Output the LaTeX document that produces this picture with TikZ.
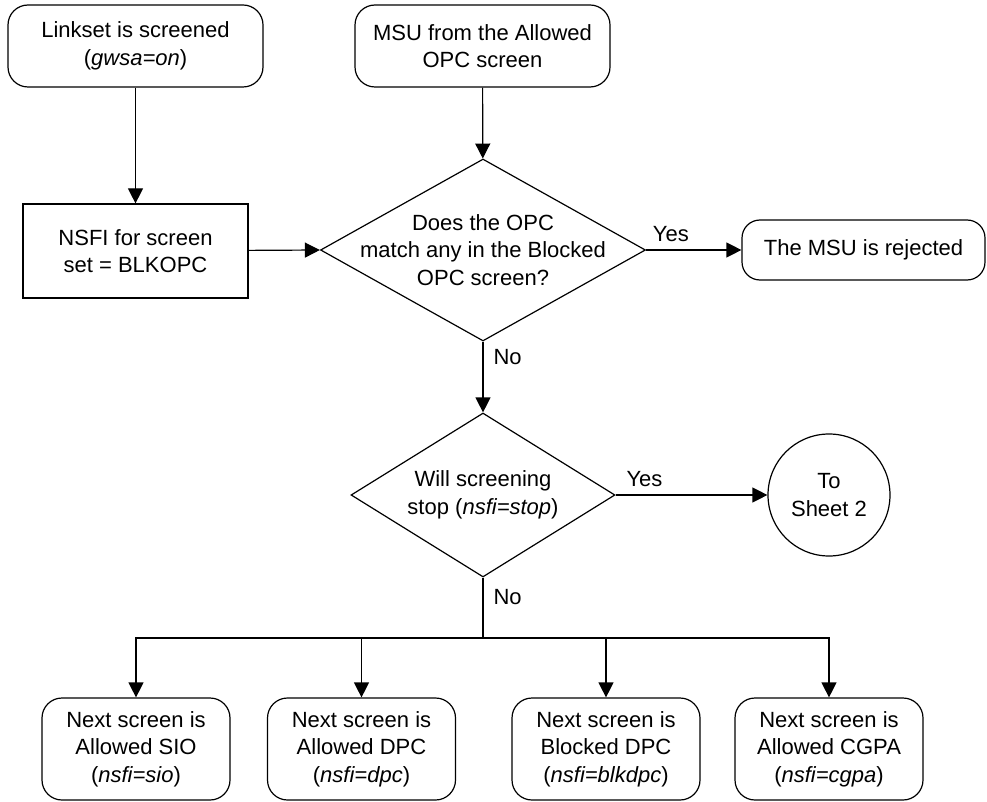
\documentclass[tikz,border=0pt]{standalone}
\usepackage{fontspec}
\setmainfont{Liberation Sans}
\usetikzlibrary{shapes.geometric,arrows.meta}
\begin{document}
\begin{tikzpicture}[x=1pt,y=-1pt,
  every node/.style={font=\fontsize{22}{27.5}\selectfont, align=center, inner sep=0pt},
  term/.style={draw, line width=1.2pt, rounded corners=20pt},
  proc/.style={draw, line width=1.2pt},
  dec/.style={draw, diamond, line width=1.2pt},
  conn/.style={draw, circle, line width=1.2pt, minimum size=122pt},
  arr/.style={line width=1.2pt, -{Triangle[length=15pt,width=15pt]}},
  ln/.style={line width=1.2pt}]
\useasboundingbox (0,0) rectangle (987,802);

\node[term, minimum width=255pt, minimum height=82pt] (s1) at (135.5,46) {Linkset is screened\\(\textit{gwsa=on})};
\node[term, minimum width=255pt, minimum height=82pt] (s2) at (482.5,46) {MSU from the Allowed\\OPC screen};
\node[proc, minimum width=225pt, minimum height=94pt] (nsfi) at (135.5,251) {NSFI for screen\\set = BLKOPC};
\node[dec, minimum width=325pt, minimum height=182pt,
  label={center:Does the OPC\\match any in the Blocked\\OPC screen?}] (d1) at (483,250) {};
\node[term, rounded corners=18pt, minimum width=243pt, minimum height=60pt] (rej) at (863.5,250) {The MSU is rejected};
\node[dec, minimum width=264pt, minimum height=164pt,
  label={center:Will screening\\stop (\textit{nsfi=stop})}] (d2) at (483,495) {};
\node[conn] (circ) at (829,495) {To\\Sheet 2};

\node[term, minimum width=188pt, minimum height=102pt] (b1) at (136,749) {Next screen is\\Allowed SIO\\(\textit{nsfi=sio})};
\node[term, minimum width=188pt, minimum height=102pt] (b2) at (361.5,749) {Next screen is\\Allowed DPC\\(\textit{nsfi=dpc})};
\node[term, minimum width=188pt, minimum height=102pt] (b3) at (606,749) {Next screen is\\Blocked DPC\\(\textit{nsfi=blkdpc})};
\node[term, minimum width=188pt, minimum height=102pt] (b4) at (829,749) {Next screen is\\Allowed CGPA\\(\textit{nsfi=cgpa})};

\coordinate (j) at (483,638);

\draw[arr] (s1) -- (nsfi);
\draw[arr] (s2) -- (d1);
\draw[arr] (nsfi) -- (d1.west);
\draw[arr] (d1.east) -- node[pos=0.26, above=8pt] (y1) {Yes} (rej.west);
\draw[arr] (d1.south) -- node[pos=0.22, right=10pt] (n1) {No} (d2.north);
\draw[arr] (d2.east) -- node[pos=0.19, above=8pt] (y2) {Yes} (circ.west);
\draw[ln] (d2.south) -- node[pos=0.33, right=10pt] (n2) {No} (j);
\draw[arr] (j) -| (b1.north);
\draw[arr] (j) -| (b2.north);
\draw[arr] (j) -| (b3.north);
\draw[arr] (j) -| (b4.north);
\end{tikzpicture}
\end{document}
